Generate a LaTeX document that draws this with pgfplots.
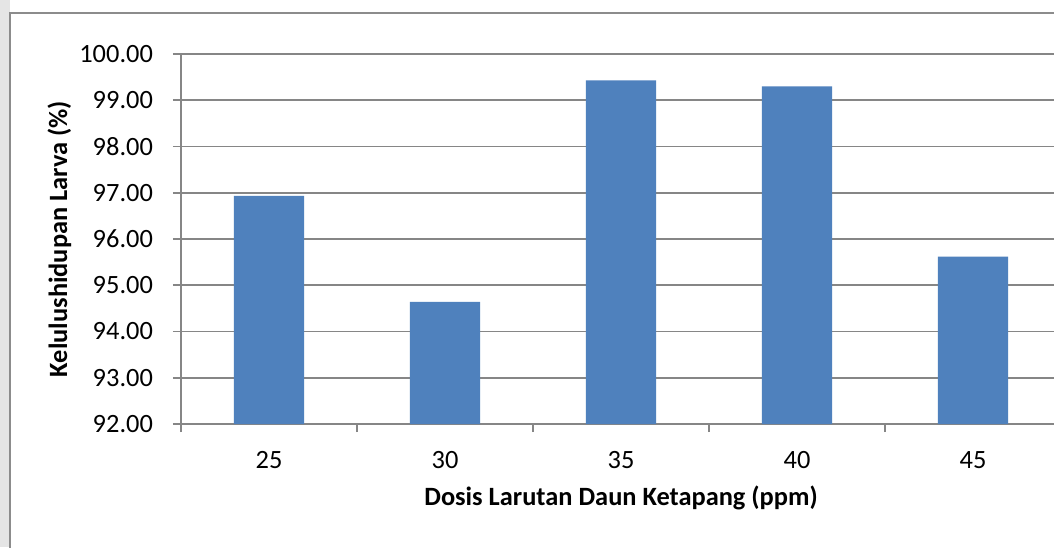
\documentclass[border=0pt]{standalone}
\usepackage{pgfplots}
\pgfplotsset{compat=1.18}
\usepackage{fontspec}
\setmainfont{Carlito}
\definecolor{gridgray}{RGB}{134,134,134}
\definecolor{barblue}{RGB}{79,129,189}
\definecolor{framegray}{RGB}{140,140,140}
\begin{document}
\begin{tikzpicture}
\fill[white] (-90.5pt,-61.5pt) rectangle (436.5pt,212pt);
\fill[black!10] (-90.5pt,-61.5pt) rectangle (-85.5pt,212pt);
\draw[framegray, line width=0.8pt] (-85.5pt,-80pt) -- (-85.5pt,205.6pt) -- (460pt,205.6pt);
\begin{axis}[
  at={(0,0)}, anchor=south west,
  scale only axis, width=440pt, height=185pt,
  xmin=0.5, xmax=5.5, ymin=92, ymax=100,
  axis lines*=left,
  axis line style={gridgray, line width=0.8pt},
  xtick={0.5,1.5,2.5,3.5,4.5,5.5},
  xticklabels={25,30,35,40,45,{}},
  xticklabel style={xshift=44pt, anchor=base, yshift=-18pt},
  ytick={92,93,...,100},
  yticklabel style={anchor=east, xshift=-6.5pt},
  /pgf/number format/.cd, fixed, fixed zerofill, precision=2, assume math mode=true, /pgfplots/.cd,
  tick align=outside, major tick length=4pt,
  tick style={gridgray, line width=0.8pt},
  ymajorgrids, grid style={gridgray, line width=0.8pt},
  tick label style={font=\fontsize{13.2}{15}\selectfont},
  label style={font=\fontsize{13.2}{15}\selectfont\bfseries},
  xlabel={Dosis Larutan Daun Ketapang (ppm)},
  xlabel style={at={(axis description cs:0.5,-0.2216)}, anchor=base},
  ylabel={Kelulushidupan Larva (\%)},
  ylabel style={at={(axis description cs:-0.1295,0.5)}, anchor=base, rotate=0},
  ybar, bar width=0.4, bar shift=0pt,
]
\addplot[fill=barblue, draw=none] coordinates {(1,96.93) (2,94.64) (3,99.43) (4,99.30) (5,95.62)};
\end{axis}
\pgfresetboundingbox
\path[use as bounding box] (-90.5pt,-61.5pt) rectangle (436.5pt,212pt);
\end{tikzpicture}
\end{document}
